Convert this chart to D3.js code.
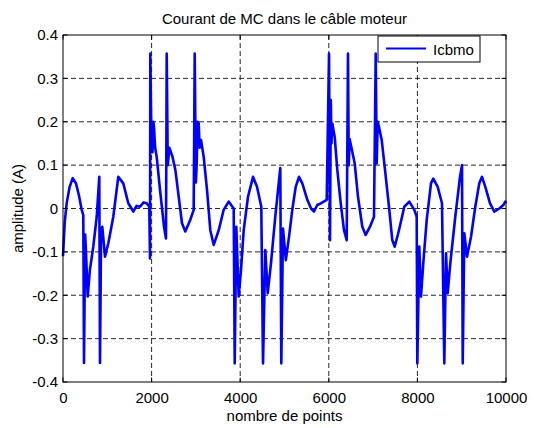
<!DOCTYPE html>
<html>
<head>
<meta charset="utf-8">
<script src="https://cdn.jsdelivr.net/npm/d3@7/dist/d3.min.js"></script>
<style>
  body { margin: 0; background: #fff; }
  svg text { font-family: "Liberation Sans", Arial, sans-serif; }
</style>
</head>
<body>
<svg id="chart" width="534" height="428"></svg>
<script>
// tick values and labels
const xTicks = [0, 2000, 4000, 6000, 8000, 10000];
const yTicks = [-0.4, -0.3, -0.2, -0.1, 0, 0.1, 0.2, 0.3, 0.4];
const yTickLabels = ["-0.4", "-0.3", "-0.2", "-0.1", "0", "0.1", "0.2", "0.3", "0.4"];

// Icbmo trace: [point index, amplitude (A)]
const traceIcbmo = [
  [0, -0.11], [40, -0.03], [84, 0.013], [150, 0.05], [219, 0.07], [293, 0.058], [360, 0.03], [422, -0.003], [458, -0.015],
  [474, -0.356], [500, -0.06], [519, -0.10], [557, -0.203], [609, -0.14], [684, -0.088], [761, -0.019], [819, 0.073],
  [835, -0.356], [860, -0.05], [887, -0.042], [948, -0.111], [1023, -0.08], [1135, -0.019], [1248, 0.073],
  [1361, 0.058], [1474, 0.012], [1587, -0.007], [1660, 0.006], [1738, 0.004], [1820, 0.014], [1889, 0.012], [1948, 0.004],
  [1964, -0.115], [1971, 0.357], [1985, 0.24], [1995, 0.15], [2002, 0.2], [2020, 0.13], [2040, 0.2], [2054, 0.188],
  [2080, 0.14], [2115, 0.119], [2190, 0.043], [2280, -0.042], [2325, -0.069],
  [2341, 0.357], [2365, 0.1], [2400, 0.14], [2470, 0.12], [2536, 0.089], [2612, 0.027], [2686, -0.034], [2761, -0.053],
  [2874, -0.026], [2950, -0.003], [2973, 0.357], [3000, 0.06], [3018, 0.104], [3040, 0.2], [3063, 0.196], [3085, 0.14], [3115, 0.158],
  [3176, 0.119], [3251, 0.043], [3325, -0.05], [3402, -0.084], [3515, -0.05], [3627, -0.003], [3740, 0.016],
  [3853, 0.0], [3876, -0.357], [3912, -0.042], [3966, -0.203], [4018, -0.142], [4079, -0.05], [4176, 0.027],
  [4289, 0.073], [4379, 0.05], [4476, 0.004], [4515, -0.357], [4567, -0.096], [4621, -0.195], [4695, -0.126],
  [4792, -0.019], [4905, 0.093], [4928, -0.357], [4966, -0.046], [5030, -0.119], [5102, -0.065], [5176, -0.003],
  [5253, 0.05], [5327, 0.073], [5402, 0.058], [5515, 0.02], [5600, 0.0], [5666, -0.007], [5740, 0.008], [5817, 0.012], [5953, 0.02],
  [6005, 0.357], [6027, -0.073], [6045, 0.25], [6060, 0.15], [6079, 0.196], [6133, 0.165], [6192, 0.089], [6269, 0.012],
  [6343, -0.05], [6404, -0.073], [6433, 0.357], [6450, 0.1], [6470, 0.16], [6508, 0.142], [6585, 0.104], [6659, 0.027],
  [6756, -0.042], [6833, -0.061], [6930, -0.042], [7020, -0.019], [7059, 0.357], [7081, 0.104], [7105, 0.2], [7133, 0.188],
  [7194, 0.158], [7269, 0.089], [7359, 0.004], [7433, -0.073], [7487, -0.088], [7560, -0.06], [7620, -0.034],
  [7704, 0.004], [7817, 0.016], [7930, -0.003], [7984, -0.019], [7998, -0.357], [8043, -0.088], [8081, -0.203],
  [8133, -0.126], [8210, -0.026], [8307, 0.058], [8359, 0.069], [8458, 0.05], [8555, 0.012], [8607, -0.357],
  [8646, -0.103], [8684, -0.195], [8743, -0.126], [8855, -0.019], [8962, 0.073], [9007, 0.1], [9023, -0.357],
  [9059, -0.057], [9120, -0.111], [9210, -0.065], [9307, 0.004], [9397, 0.058], [9458, 0.073], [9533, 0.05],
  [9639, 0.012], [9736, -0.007], [9849, 0.0], [9940, 0.008], [9984, 0.016], [10000, 0.012]
];

const titleText = "Courant de MC dans le câble moteur";
const xLabel = "nombre de points";
const yLabel = "amplitude (A)";
const legendLabel = "Icbmo";

const W = 534, H = 428;
const margin = { top: 35, right: 28, bottom: 46, left: 63 };
const innerW = W - margin.left - margin.right;
const innerH = H - margin.top - margin.bottom;
const fs = 15;

const svg = d3.select("#chart");
svg.append("rect").attr("width", W).attr("height", H).attr("fill", "#fff");

const g = svg.append("g")
  .attr("transform", `translate(${margin.left},${margin.top})`);

const x = d3.scaleLinear().domain([0, 10000]).range([0, innerW]);
const y = d3.scaleLinear().domain([-0.4, 0.4]).range([innerH, 0]);

// grille pointillee
g.selectAll(".gx").data(xTicks.slice(1, -1)).join("line")
  .attr("x1", d => x(d)).attr("x2", d => x(d))
  .attr("y1", 0).attr("y2", innerH)
  .attr("stroke", "#111").attr("stroke-width", 0.9)
  .attr("stroke-dasharray", "5,3");
g.selectAll(".gy").data(yTicks.slice(1, -1)).join("line")
  .attr("y1", d => y(d)).attr("y2", d => y(d))
  .attr("x1", 0).attr("x2", innerW)
  .attr("stroke", "#111").attr("stroke-width", 0.9)
  .attr("stroke-dasharray", "5,3");

// courbe
const line = d3.line().x(d => x(d[0])).y(d => y(d[1]));
g.append("path")
  .datum(traceIcbmo)
  .attr("d", line)
  .attr("fill", "none")
  .attr("stroke", "#0000ff")
  .attr("stroke-width", 2.6)
  .attr("stroke-linejoin", "round");

// ticks vers l'interieur, sur les 4 cotes
const tl = 4.5;
xTicks.forEach(t => {
  g.append("line").attr("x1", x(t)).attr("x2", x(t)).attr("y1", innerH).attr("y2", innerH - tl).attr("stroke", "#000");
  g.append("line").attr("x1", x(t)).attr("x2", x(t)).attr("y1", 0).attr("y2", tl).attr("stroke", "#000");
});
yTicks.forEach(t => {
  g.append("line").attr("y1", y(t)).attr("y2", y(t)).attr("x1", 0).attr("x2", tl).attr("stroke", "#000");
  g.append("line").attr("y1", y(t)).attr("y2", y(t)).attr("x1", innerW).attr("x2", innerW - tl).attr("stroke", "#000");
});

// cadre
g.append("rect")
  .attr("width", innerW).attr("height", innerH)
  .attr("fill", "none").attr("stroke", "#000").attr("stroke-width", 1);

// axes (labels only)
const xAxis = g.append("g")
  .attr("transform", `translate(0,${innerH})`)
  .call(d3.axisBottom(x).tickValues(xTicks).tickFormat(d3.format("d")).tickSize(0).tickPadding(10));
const yAxis = g.append("g")
  .call(d3.axisLeft(y).tickValues(yTicks).tickFormat((d, i) => yTickLabels[i]).tickSize(0).tickPadding(5));
[xAxis, yAxis].forEach(a => {
  a.select(".domain").remove();
  a.selectAll("text").attr("font-size", fs).attr("fill", "#000")
    .attr("font-family", "'Liberation Sans', Arial, sans-serif");
});

// titre et labels
svg.append("text")
  .attr("x", margin.left + innerW / 2).attr("y", 24)
  .attr("text-anchor", "middle").attr("font-size", fs).attr("fill", "#000")
  .text(titleText);
svg.append("text")
  .attr("x", margin.left + innerW / 2).attr("y", 421)
  .attr("text-anchor", "middle").attr("font-size", fs).attr("fill", "#000")
  .text(xLabel);
svg.append("text")
  .attr("transform", `translate(23,${margin.top + innerH / 2}) rotate(-90)`)
  .attr("text-anchor", "middle").attr("font-size", fs).attr("fill", "#000")
  .text(yLabel);

// legende
const lg = svg.append("g").attr("transform", "translate(378,36)");
lg.append("rect").attr("width", 102).attr("height", 26)
  .attr("fill", "#fff").attr("stroke", "#000").attr("stroke-width", 1);
lg.append("line").attr("x1", 8).attr("x2", 48).attr("y1", 12.5).attr("y2", 12.5)
  .attr("stroke", "#0000ff").attr("stroke-width", 2);
lg.append("text").attr("x", 55).attr("y", 18.5)
  .attr("font-size", fs).attr("fill", "#000")
  .text(legendLabel);
</script>
</body>
</html>
